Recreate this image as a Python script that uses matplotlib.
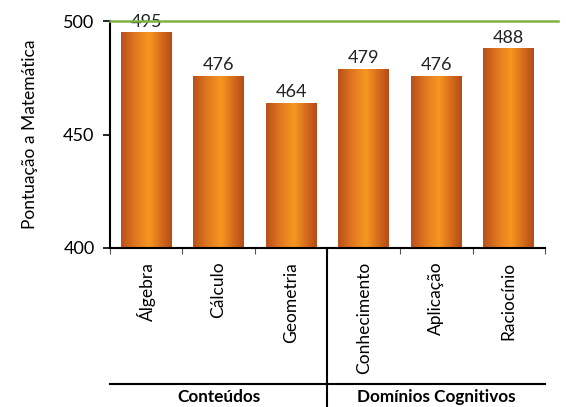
import matplotlib.pyplot as plt
import numpy as np
from matplotlib.colors import LinearSegmentedColormap

categories = ['Álgebra', 'Cálculo', 'Geometria', 'Conhecimento', 'Aplicação', 'Raciocínio']
scores = [495, 476, 464, 479, 476, 488]
groups = ['Conteúdos', 'Domínios Cognitivos']
group_sizes = [3, 3]

plt.rcParams['font.family'] = ['Lato', 'DejaVu Sans']

fig = plt.figure(figsize=(5.66, 4.07), dpi=100)
ax = fig.add_axes([0.194, 0.391, 0.769, 0.557])

x = np.arange(len(categories))
bars = ax.bar(x, scores, width=0.7, color='none', edgecolor='none', zorder=2)

# orange metallic gradient
cmap = LinearSegmentedColormap.from_list('orange', [
    (0.0, '#b9501a'), (0.3, '#e37a20'), (0.55, '#f6971f'),
    (0.8, '#d46a1c'), (1.0, '#b44c17')])
grad = np.linspace(0, 1, 256).reshape(1, -1)
for b in bars:
    bx, by = b.get_x(), b.get_y()
    w, h = b.get_width(), b.get_height()
    im = ax.imshow(grad, cmap=cmap, aspect='auto', zorder=2,
                   extent=[bx, bx + w, 400, by + h])
    im.set_clip_path(b)

for xi, v in zip(x, scores):
    ax.text(xi, v + 1.2, str(v), ha='center', va='bottom', fontsize=13, color='#222222')

ax.set_ylim(400, 500)
ax.set_xlim(-0.5, len(categories) - 0.5)
ax.set_yticks([400, 450, 500])
ax.tick_params(axis='y', labelsize=13, length=5, width=1.2, pad=6)
ax.set_ylabel('Pontuação a Matemática', fontsize=12.5, labelpad=18)

ax.axhline(500, xmin=0, xmax=1.03, color='#7cb342', lw=1.8, clip_on=False, zorder=3)

ax.set_xticks(x)
ax.set_xticklabels(categories, rotation=90, fontsize=12.5)
ax.tick_params(axis='x', length=0, pad=10)
ax.set_xticks(np.arange(-0.5, len(categories)), minor=True)
ax.tick_params(axis='x', which='minor', length=4, width=0.8, color='#555555')

for s in ['top', 'right']:
    ax.spines[s].set_visible(False)
ax.spines['left'].set_linewidth(1.5)
ax.spines['bottom'].set_linewidth(1.5)

# group labels below the category labels
trans = ax.get_xaxis_transform()
line_y = -0.6
ax.plot([-0.5, len(categories) - 0.5], [line_y, line_y], color='black', lw=1.5,
        transform=trans, clip_on=False)
start = 0
for g, n in zip(groups, group_sizes):
    center = start + (n - 1) / 2
    ax.text(center, line_y - 0.058, g, transform=trans, ha='center', va='center',
            fontsize=12.3, fontweight='bold')
    start += n
    if start < len(categories):
        ax.plot([start - 0.5, start - 0.5], [0, -0.71], color='black', lw=1.5,
                transform=trans, clip_on=False)

fig.savefig('out.png', dpi=100)
